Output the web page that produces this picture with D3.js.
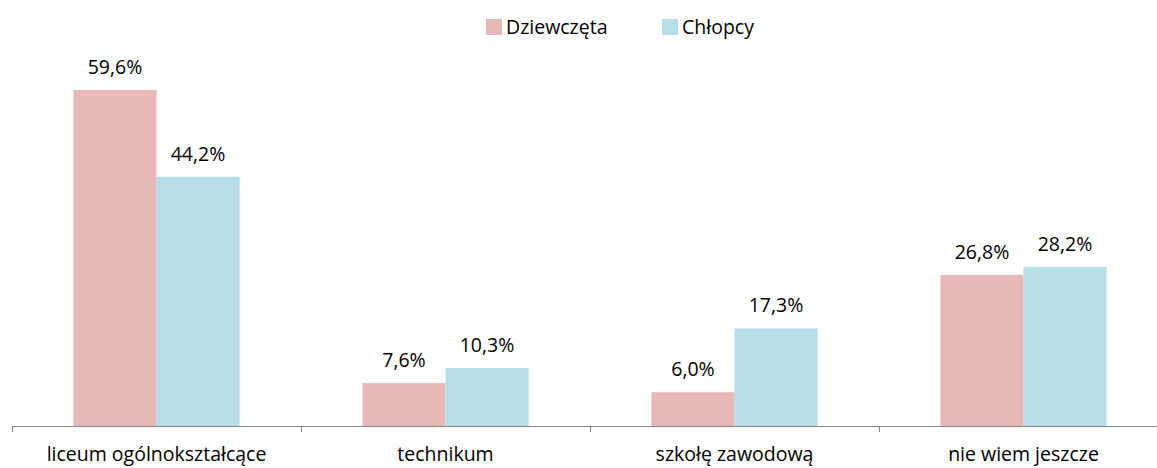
<!DOCTYPE html>
<html><head><meta charset="utf-8">
<script src="https://cdn.jsdelivr.net/npm/d3@7"></script>
<style>body{margin:0;background:#fff;} svg{display:block;} text{font-family:"Open Sans",sans-serif;fill:#000;}</style>
</head><body><svg id="c" width="1157" height="468"></svg>
<script>
const categories = ["liceum ogólnokształcące","technikum","szkołę zawodową","nie wiem jeszcze"];
const seriesNames = ["Dziewczęta","Chłopcy"];
const girls = [59.6, 7.6, 6.0, 26.8];
const boys = [44.2, 10.3, 17.3, 28.2];
const colors = ["#E6B9B8","#B7DEE8"];

const svg = d3.select("#c");
const baseY = 426;
const fs = 19.5;
const x = d3.scaleBand().domain(categories).range([12, 12 + 289*4]).paddingInner(0).paddingOuter(0);
const x1 = d3.scaleBand().domain(seriesNames).range([0, x.bandwidth()]).paddingInner(0).paddingOuter(0.74);
const y = d3.scaleLinear().domain([0, 59.6]).range([baseY, 90]);

const data = [girls, boys];
const fmt = v => v.toFixed(1).replace(".", ",") + "%";

seriesNames.forEach((s, si) => {
  categories.forEach((c, ci) => {
    const v = data[si][ci];
    const bx = x(c) + x1(s);
    svg.append("rect").attr("x", bx).attr("y", y(v)).attr("width", x1.bandwidth()).attr("height", baseY - y(v)).attr("fill", colors[si]);
    svg.append("text").attr("x", bx + x1.bandwidth()/2).attr("y", y(v) - 16).attr("text-anchor","middle").attr("font-size", fs).text(fmt(v));
  });
});

// axis
const axis = d3.axisBottom(x).tickSize(0).tickFormat("");
const ag = svg.append("g").attr("transform", `translate(0,${baseY})`).call(axis);
ag.select(".domain").remove();
svg.append("line").attr("x1", 12).attr("x2", 1157).attr("y1", baseY+0.5).attr("y2", baseY+0.5).attr("stroke","#868686");
const ticks = [0,1,2,3].map(i => x(categories[i]));
ticks.forEach(t => svg.append("line").attr("x1", t+0.5).attr("x2", t+0.5).attr("y1", baseY).attr("y2", baseY+6).attr("stroke","#868686"));
categories.forEach(c => svg.append("text").attr("x", x(c) + x.bandwidth()/2).attr("y", 461).attr("text-anchor","middle").attr("font-size", fs).text(c));

// legend
const legendX = [486, 662];
seriesNames.forEach((s, i) => {
  svg.append("rect").attr("x", legendX[i]).attr("y", 19).attr("width", 16).attr("height", 16).attr("fill", colors[i]);
  svg.append("text").attr("x", legendX[i] + 20).attr("y", 34).attr("font-size", fs).text(s);
});
</script></body></html>
